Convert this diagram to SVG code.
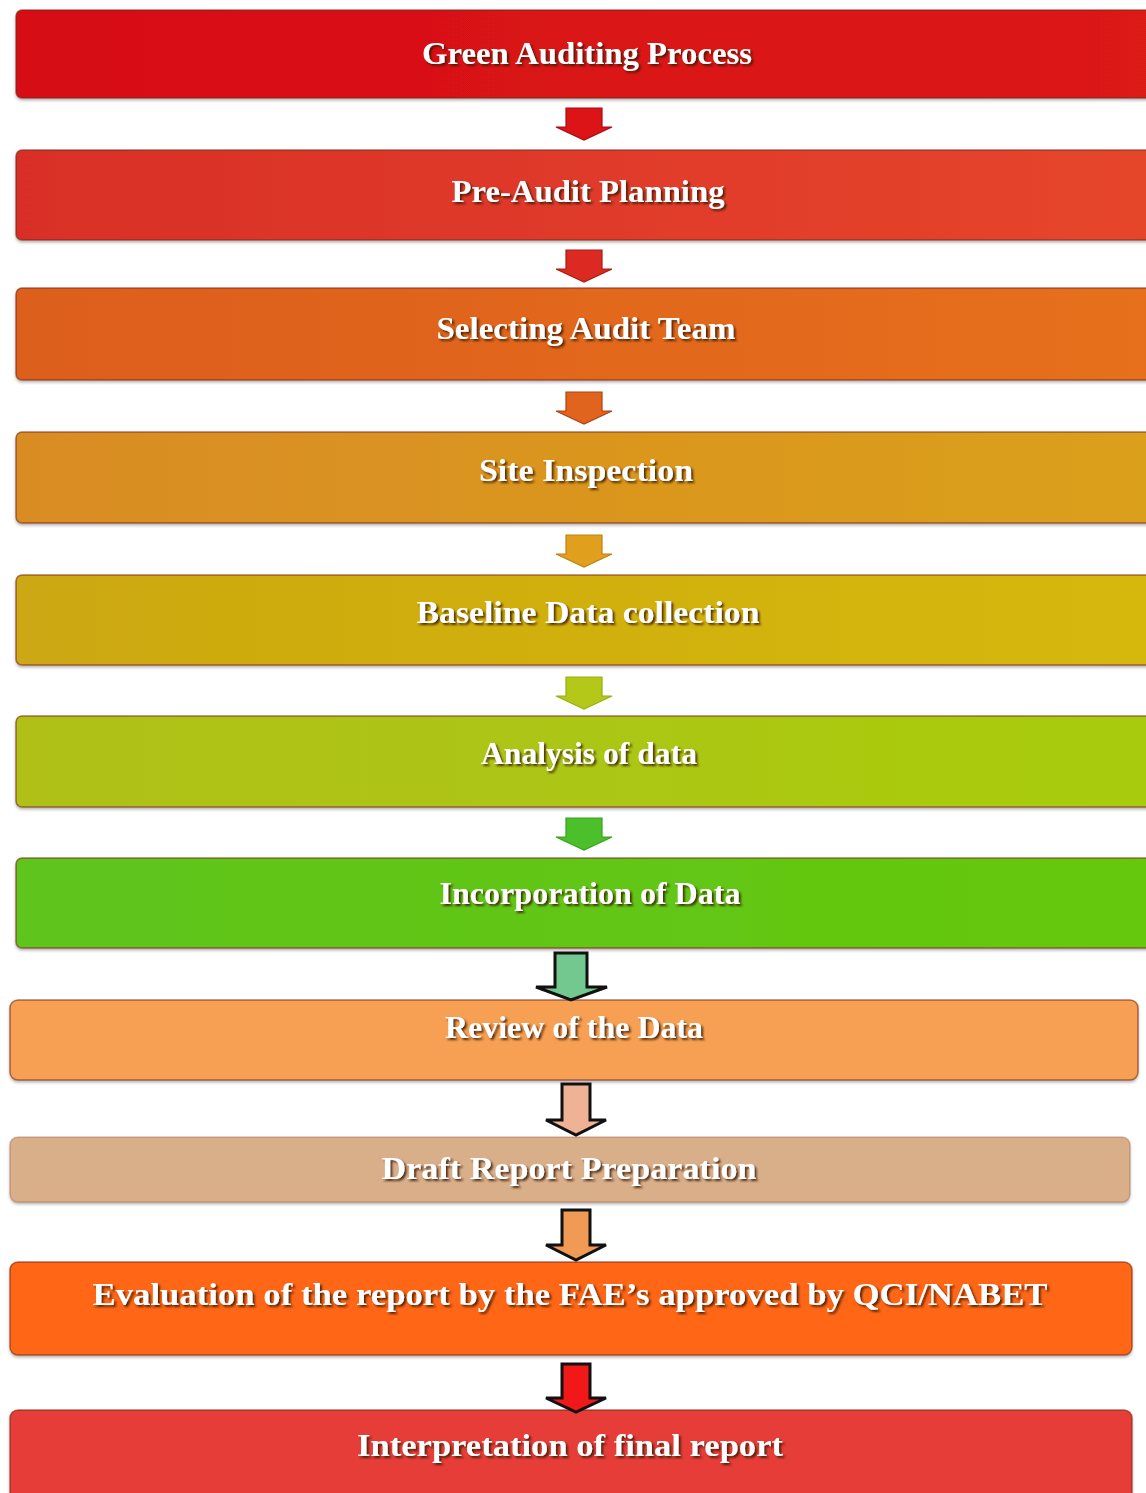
<svg xmlns="http://www.w3.org/2000/svg" width="1146" height="1493" viewBox="0 0 1146 1493">
<defs>
<style>
.box{stroke:#7a2a10;stroke-opacity:0.6;stroke-width:1.5}
.lbl{font-family:"Liberation Serif","Times New Roman",serif;font-weight:bold;font-size:32px;fill:#ffffff;text-anchor:middle}
.fa{stroke-width:1.2;stroke-linejoin:miter}
.oa{stroke:#111111;stroke-width:3;stroke-linejoin:miter}
</style>
<filter id="ts" x="-5%" y="-30%" width="110%" height="160%">
<feDropShadow dx="2" dy="2" stdDeviation="1" flood-color="#3a1500" flood-opacity="0.85"/>
</filter>
<filter id="bs" x="-2%" y="-10%" width="104%" height="125%">
<feDropShadow dx="0" dy="2" stdDeviation="1.5" flood-color="#000" flood-opacity="0.3"/>
</filter>
<linearGradient id="g1" x1="0" x2="1"><stop offset="0" stop-color="#d70c14"/><stop offset="1" stop-color="#dc1a18"/></linearGradient>
<linearGradient id="g2" x1="0" x2="1"><stop offset="0" stop-color="#d92f28"/><stop offset="1" stop-color="#e6462a"/></linearGradient>
<linearGradient id="g3" x1="0" x2="1"><stop offset="0" stop-color="#dd5e1c"/><stop offset="1" stop-color="#e6701c"/></linearGradient>
<linearGradient id="g4" x1="0" x2="1"><stop offset="0" stop-color="#d98c22"/><stop offset="1" stop-color="#dba01c"/></linearGradient>
<linearGradient id="g5" x1="0" x2="1"><stop offset="0" stop-color="#cca812"/><stop offset="1" stop-color="#d6b80c"/></linearGradient>
<linearGradient id="g6" x1="0" x2="1"><stop offset="0" stop-color="#b0c014"/><stop offset="1" stop-color="#a8cc10"/></linearGradient>
<linearGradient id="g7" x1="0" x2="1"><stop offset="0" stop-color="#5ec41c"/><stop offset="1" stop-color="#66c80c"/></linearGradient>
</defs>
<rect width="1146" height="1493" fill="#ffffff"/>

<g id="node1"><rect class="box" filter="url(#bs)" x="16" y="10" width="1150" height="88" rx="6" fill="url(#g1)"/>
<text class="lbl" filter="url(#ts)" x="587" y="64" textLength="330" lengthAdjust="spacingAndGlyphs">Green Auditing Process</text></g>
<g id="node2"><rect class="box" filter="url(#bs)" x="16" y="150" width="1150" height="90" rx="6" fill="url(#g2)"/>
<text class="lbl" filter="url(#ts)" x="588" y="202" textLength="273" lengthAdjust="spacingAndGlyphs">Pre-Audit Planning</text></g>
<g id="node3"><rect class="box" filter="url(#bs)" x="16" y="288" width="1150" height="92" rx="6" fill="url(#g3)"/>
<text class="lbl" filter="url(#ts)" x="586" y="339" textLength="299" lengthAdjust="spacingAndGlyphs">Selecting Audit Team</text></g>
<g id="node4"><rect class="box" filter="url(#bs)" x="16" y="432" width="1150" height="91" rx="6" fill="url(#g4)"/>
<text class="lbl" filter="url(#ts)" x="586" y="481" textLength="214" lengthAdjust="spacingAndGlyphs">Site Inspection</text></g>
<g id="node5"><rect class="box" filter="url(#bs)" x="16" y="575" width="1150" height="90" rx="6" fill="url(#g5)"/>
<text class="lbl" filter="url(#ts)" x="588" y="623" textLength="343" lengthAdjust="spacingAndGlyphs">Baseline Data collection</text></g>
<g id="node6"><rect class="box" filter="url(#bs)" x="16" y="716" width="1150" height="91" rx="6" fill="url(#g6)"/>
<text class="lbl" filter="url(#ts)" x="589" y="764" textLength="216" lengthAdjust="spacingAndGlyphs">Analysis of data</text></g>
<g id="node7"><rect class="box" filter="url(#bs)" x="16" y="858" width="1150" height="90" rx="6" fill="url(#g7)"/>
<text class="lbl" filter="url(#ts)" x="590" y="904" textLength="301" lengthAdjust="spacingAndGlyphs">Incorporation of Data</text></g>
<g id="node8"><rect class="box" filter="url(#bs)" x="10" y="1000" width="1128" height="80" rx="8" fill="#f7a052"/>
<text class="lbl" filter="url(#ts)" x="574" y="1038" textLength="258" lengthAdjust="spacingAndGlyphs">Review of the Data</text></g>
<g id="node9"><rect class="box" filter="url(#bs)" x="10" y="1137" width="1120" height="65" rx="8" fill="#d9af8a" style="stroke-opacity:0.25"/>
<text class="lbl" filter="url(#ts)" x="569" y="1179" textLength="375" lengthAdjust="spacingAndGlyphs">Draft Report Preparation</text></g>
<g id="node10"><rect class="box" filter="url(#bs)" x="10" y="1262" width="1122" height="93" rx="8" fill="#ff6612"/>
<text class="lbl" filter="url(#ts)" x="570" y="1305" textLength="955" lengthAdjust="spacingAndGlyphs">Evaluation of the report by the FAE’s approved by QCI/NABET</text></g>
<g id="node11"><rect class="box" filter="url(#bs)" x="10" y="1410" width="1122" height="95" rx="8" fill="#e63c38"/>
<text class="lbl" filter="url(#ts)" x="570" y="1456" textLength="426" lengthAdjust="spacingAndGlyphs">Interpretation of final report</text></g>

<g id="connectors">
<polygon class="fa" points="566,108 602,108 602,127 612,127 584,140 556,127 566,127" fill="#dc1418" stroke="#a80a10"/>
<polygon class="fa" points="566,250 602,250 602,269 612,269 584,282 556,269 566,269" fill="#dc2a22" stroke="#a81a10"/>
<polygon class="fa" points="566,392 602,392 602,411 612,411 584,424 556,411 566,411" fill="#e0641e" stroke="#b04010"/>
<polygon class="fa" points="566,535 602,535 602,554 612,554 584,567 556,554 566,554" fill="#e0a01e" stroke="#c08010"/>
<polygon class="fa" points="566,677 602,677 602,696 612,696 584,709 556,696 566,696" fill="#b4c81a" stroke="#98b010"/>
<polygon class="fa" points="566,818 602,818 602,837 612,837 584,850 556,837 566,837" fill="#4cc02a" stroke="#38a020"/>
<polygon class="oa" points="555,953 587,953 587,987 607,987 571,1000 536,987 555,987" fill="#72c88e"/>
<polygon class="oa" points="562,1084 590,1084 590,1120 606,1120 576,1135 546,1120 562,1120" fill="#f0b294"/>
<polygon class="oa" points="562,1210 590,1210 590,1245 606,1245 576,1260 546,1245 562,1245" fill="#f09a56"/>
<polygon class="oa" points="562,1364 590,1364 590,1398 606,1398 576,1412 546,1398 562,1398" fill="#f01818"/>
</g>
</svg>
